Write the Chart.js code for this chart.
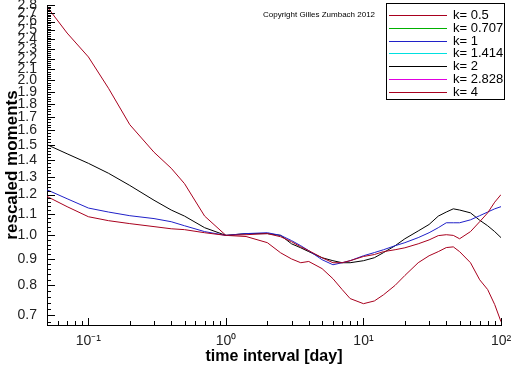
<!DOCTYPE html>
<html>
<head>
<meta charset="utf-8">
<script src="https://cdn.jsdelivr.net/npm/chart.js@4/dist/chart.umd.min.js"></script>
<style>
html,body{margin:0;padding:0;background:#fff;}
#wrap{width:512px;height:366px;position:relative;}
</style>
</head>
<body>
<div id="wrap"><canvas id="c" width="512" height="366"></canvas></div>
<script>
// time interval [day]
const xValues = [0.05,0.07,0.1,0.14,0.2,0.3,0.4,0.5,0.7,1,1.4,2,2.5,3,3.5,4,5,6,7,8,10,12,14,17,20,25,30,35,40,45,50,60,70,80,90,100];
// rescaled moments per k
const k05 = [1.19,1.137,1.087,1.068,1.054,1.04,1.03,1.026,1.012,1.0,1.003,1.008,0.994,0.972,0.95,0.934,0.905,0.885,0.885,0.893,0.91,0.918,0.93,0.938,0.946,0.963,0.98,0.999,1.003,1.0,0.985,1.017,1.063,1.106,1.16,1.2];
const k0707 = [];
const k1 = [1.226,1.178,1.13,1.11,1.092,1.078,1.063,1.044,1.017,1.0,1.008,1.012,1.0,0.977,0.955,0.934,0.897,0.877,0.885,0.893,0.913,0.926,0.938,0.955,0.968,0.99,1.012,1.035,1.058,1.058,1.058,1.072,1.092,1.11,1.126,1.137];
const k1414 = [];
const k2 = [1.50,1.44,1.38,1.32,1.25,1.17,1.12,1.09,1.035,1.0,1.008,1.008,1.0,0.963,0.946,0.93,0.905,0.893,0.885,0.885,0.893,0.905,0.926,0.955,0.985,1.02,1.05,1.09,1.11,1.126,1.12,1.106,1.07,1.044,1.017,0.99];
const k2828 = [];
const k4 = [2.78,2.47,2.22,1.93,1.64,1.45,1.35,1.26,1.09,1.0,0.995,0.968,0.925,0.90,0.885,0.89,0.862,0.824,0.785,0.754,0.737,0.746,0.767,0.80,0.836,0.885,0.913,0.93,0.947,0.95,0.93,0.885,0.82,0.785,0.734,0.68];

const seriesLabels = ['k= 0.5','k= 0.707','k= 1','k= 1.414','k= 2','k= 2.828','k= 4'];
const seriesData = [k05,k0707,k1,k1414,k2,k2828,k4];
const seriesColors = ['#a8001e','#00b000','#2020c8','#00e0e0','#000000','#e000e0','#a8001e'];

const yTickValues = [0.7,0.8,0.9,1.0,1.1,1.2,1.3,1.4,1.5,1.6,1.7,1.8,1.9,2.0,2.1,2.2,2.3,2.4,2.5,2.6,2.7,2.8];
const xTickValues = [0.1,1,10,100];
const xTickLabels = ['10\u207B\u00B9','10\u2070','10\u00B9','10\u00B2'];
const copyrightText = 'Copyright Gilles Zumbach 2012';

const datasets = seriesLabels.map((lab,i)=>({
  label: lab,
  data: seriesData[i].map((v,j)=>({x:xValues[j], y:v})),
  borderColor: seriesColors[i],
  backgroundColor: seriesColors[i],
  borderWidth: 1,
  pointRadius: 0,
  tension: 0,
  fill: false
}));

const innerTicks = {
  id:'innerTicks',
  afterDatasetsDraw(chart){
    const ctx = chart.ctx, ca = chart.chartArea;
    const xs = chart.scales.x, ys = chart.scales.y;
    ctx.save();
    ctx.strokeStyle = '#000';
    ctx.lineWidth = 1;
    ctx.beginPath();
    for (let i = 34; i <= 140; i++) {
      const v = i/50;
      if (v < ys.min || v > ys.max + 1e-9) continue;
      const isMajor = (i % 5 === 0);
      const py = Math.round(ys.getPixelForValue(v)) + 0.5;
      ctx.moveTo(ca.left, py);
      ctx.lineTo(ca.left + (isMajor ? 8 : 4), py);
    }
    for (let e = -2; e <= 2; e++) {
      for (let m = 1; m <= 9; m++) {
        const v = m * Math.pow(10, e);
        if (v < xs.min - 1e-9 || v > xs.max + 1e-9) continue;
        const px = Math.round(xs.getPixelForValue(v)) + 0.5;
        ctx.moveTo(px, ca.bottom);
        ctx.lineTo(px, ca.bottom - (m === 1 ? 7 : 4));
      }
    }
    ctx.stroke();

    ctx.fillStyle = '#000';
    ctx.font = '8px "Liberation Sans", Arial, sans-serif';
    ctx.textBaseline = 'middle';
    ctx.textAlign = 'left';
    ctx.fillText(copyrightText, 263, 15);

    const bx = 386, by = 3, bw = 118, bh = 96;
    ctx.fillStyle = '#fff';
    ctx.fillRect(bx, by, bw, bh);
    ctx.strokeStyle = '#000';
    ctx.strokeRect(bx + 0.5, by + 0.5, bw, bh);
    ctx.font = '13px "Liberation Sans", Arial, sans-serif';
    seriesLabels.forEach((lab, i) => {
      const ry = Math.round(by + 12 + i * 12.8);
      ctx.fillStyle = seriesColors[i];
      ctx.fillRect(bx + 3, ry, 58, 1);
      ctx.fillStyle = '#000';
      ctx.fillText(lab, bx + 67, ry + 0.5);
    });
    ctx.restore();
  }
};

new Chart(document.getElementById('c'), {
  type: 'line',
  data: { datasets },
  options: {
    responsive: false,
    animation: false,
    layout: { padding: { top: 5, right: 11, left: 0, bottom: 0 } },
    plugins: { legend: { display: false }, tooltip: { enabled: false } },
    scales: {
      x: {
        type: 'logarithmic',
        min: 0.05, max: 100,
        grid: { display: false },
        border: { display: true, color: '#000', width: 1 },
        ticks: {
          autoSkip: false, maxRotation: 0, padding: 0,
          color: '#222',
          font: { family: '"Liberation Sans", Arial, sans-serif', size: 14 },
          callback: (v) => { const i = xTickValues.indexOf(v); return i >= 0 ? xTickLabels[i] : ''; }
        },
        afterBuildTicks: (s) => { s.ticks = xTickValues.map(v => ({ value: v })); },
        afterFit: (s) => { s.height = 41; s.paddingLeft = 0; s.paddingRight = 0; },
        title: {
          display: true, text: 'time interval [day]', color: '#000',
          font: { family: '"Liberation Sans", Arial, sans-serif', size: 16, weight: 'bold' },
          padding: { top: 0, bottom: 0 }
        }
      },
      y: {
        type: 'logarithmic',
        min: 0.67, max: 2.8,
        grid: { display: false },
        border: { display: true, color: '#000', width: 1 },
        ticks: {
          autoSkip: false, padding: 2,
          color: '#222',
          font: { family: '"Liberation Sans", Arial, sans-serif', size: 14 },
          callback: (v) => Number(v).toFixed(1)
        },
        afterBuildTicks: (s) => { s.ticks = yTickValues.map(v => ({ value: v })); },
        afterFit: (s) => { s.width = 47; s.paddingTop = 0; s.paddingBottom = 0; },
        title: {
          display: true, text: 'rescaled moments', color: '#000',
          font: { family: '"Liberation Sans", Arial, sans-serif', size: 17, weight: 'bold' },
          padding: { top: 2, bottom: 0 }
        }
      }
    }
  },
  plugins: [innerTicks]
});
</script>
</body>
</html>
